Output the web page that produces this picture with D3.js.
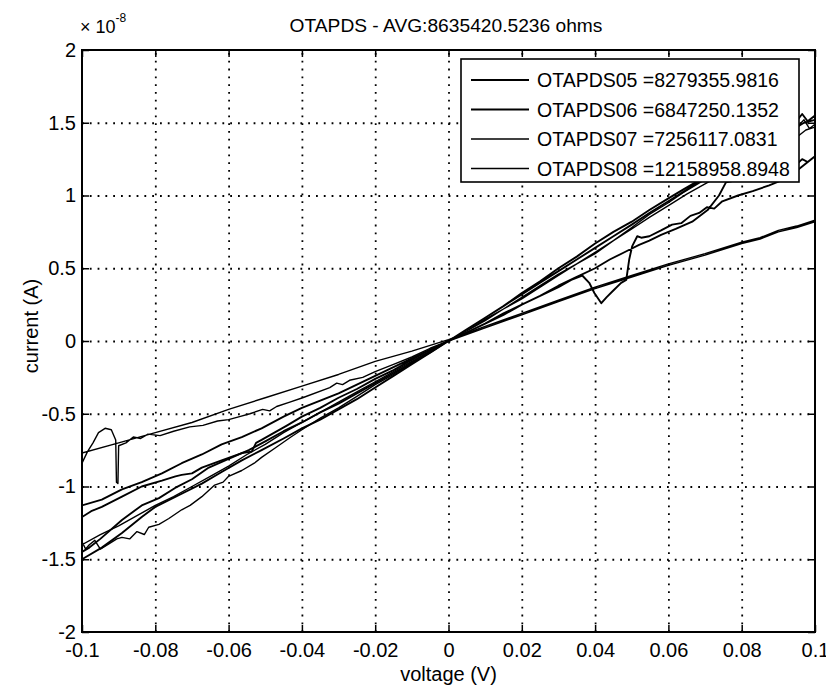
<!DOCTYPE html>
<html>
<head>
<meta charset="utf-8">
<script src="https://cdn.jsdelivr.net/npm/d3@7"></script>
<style>
body { margin: 0; background: #fff; }
text { font-family: "Liberation Sans", Arial, Helvetica, sans-serif; fill: #000; }
</style>
</head>
<body>
<div id="canvas"></div>
<script>
// ----------------------------------------------------------
// DATA -----------------------------------------------------
// ----------------------------------------------------------
var title_text = "OTAPDS - AVG:8635420.5236 ohms";
var x_label_text = "voltage (V)";
var y_label_text = "current (A)";

var x_ticks = [-0.1, -0.08, -0.06, -0.04, -0.02, 0, 0.02, 0.04, 0.06, 0.08, 0.1];
var x_tick_labels = ["-0.1", "-0.08", "-0.06", "-0.04", "-0.02", "0", "0.02", "0.04", "0.06", "0.08", "0.1"];
var y_ticks = [-2, -1.5, -1, -0.5, 0, 0.5, 1, 1.5, 2];
var y_tick_labels = ["-2", "-1.5", "-1", "-0.5", "0", "0.5", "1", "1.5", "2"];

var legend_labels = [
"OTAPDS05 =8279355.9816",
"OTAPDS06 =6847250.1352",
"OTAPDS07 =7256117.0831",
"OTAPDS08 =12158958.8948"
];

// sweeps: [voltage (V), current (x 1e-8 A)]
var otapds05 = [
[0,0],[0.005,0.06],[0.01,0.12],[0.015,0.18],[0.02,0.25],[0.025,0.31],[0.03,0.37],[0.0335,0.42],[0.0365,0.45],[0.0384,0.40],
[0.0398,0.33],[0.0417,0.26],[0.0431,0.30],[0.0447,0.34],[0.0471,0.40],[0.0485,0.42],[0.0493,0.56],[0.0501,0.65],[0.0515,0.72],
[0.0526,0.71],[0.0548,0.72],[0.058,0.76],[0.061,0.80],[0.0635,0.81],[0.066,0.86],[0.0684,0.88],[0.0705,0.92],[0.0725,0.91],
[0.0747,0.96],[0.079,1.00],[0.083,1.03],[0.0875,1.07],[0.0905,1.10],[0.094,1.15],[0.097,1.21],[0.1,1.27],
[0.098,1.23],[0.0965,1.25],[0.094,1.19],[0.0915,1.17],[0.088,1.15],[0.083,1.13],[0.0795,1.11],[0.0757,1.09],[0.0738,1.00],
[0.0707,0.90],[0.0665,0.82],[0.062,0.77],[0.058,0.73],[0.0548,0.69],[0.052,0.66],[0.048,0.61],[0.044,0.56],[0.04,0.50],
[0.035,0.44],[0.03,0.38],[0.025,0.31],[0.02,0.25],[0.015,0.19],[0.01,0.12],[0.005,0.06],[0,0],
[-0.005,-0.06],[-0.01,-0.12],[-0.015,-0.18],[-0.02,-0.24],[-0.025,-0.30],[-0.03,-0.36],[-0.035,-0.41],[-0.04,-0.46],
[-0.045,-0.52],[-0.051,-0.60],[-0.0564,-0.66],[-0.0619,-0.71],[-0.0673,-0.78],[-0.0728,-0.84],[-0.0782,-0.91],[-0.0837,-0.97],
[-0.0891,-1.02],[-0.0946,-1.09],[-0.1,-1.13],
[-0.1,-1.21],[-0.0975,-1.17],[-0.0946,-1.14],[-0.0891,-1.07],[-0.0837,-1.00],[-0.0782,-0.96],[-0.0745,-0.93],[-0.0728,-0.92],
[-0.07,-0.91],[-0.0673,-0.87],[-0.0619,-0.82],[-0.0564,-0.77],[-0.0537,-0.76],[-0.0525,-0.70],[-0.051,-0.68],[-0.0475,-0.63],
[-0.044,-0.58],[-0.04,-0.52],[-0.035,-0.46],[-0.03,-0.39],[-0.025,-0.33],[-0.02,-0.26],[-0.015,-0.20],[-0.01,-0.13],[-0.005,-0.06],[0,0]
];

var otapds06 = [
[0,0],[0.005,0.08],[0.01,0.16],[0.015,0.24],[0.02,0.33],[0.025,0.41],[0.03,0.50],[0.035,0.58],[0.04,0.67],[0.045,0.75],
[0.05,0.82],[0.0548,0.90],[0.06,0.98],[0.064,1.04],[0.068,1.10],[0.072,1.16],[0.076,1.22],[0.08,1.29],[0.085,1.36],[0.09,1.43],
[0.094,1.48],[0.0965,1.56],[0.098,1.51],[0.1,1.55],
[0.1,1.52],[0.097,1.50],[0.095,1.47],[0.09,1.40],[0.085,1.33],[0.08,1.26],[0.075,1.19],[0.07,1.12],[0.065,1.04],[0.06,0.96],
[0.0548,0.88],[0.05,0.80],[0.045,0.72],[0.04,0.64],[0.035,0.56],[0.03,0.48],[0.025,0.40],[0.02,0.32],[0.015,0.24],[0.01,0.16],
[0.005,0.08],[0,0],
[-0.005,-0.08],[-0.01,-0.16],[-0.015,-0.24],[-0.02,-0.32],[-0.025,-0.40],[-0.03,-0.47],[-0.035,-0.54],[-0.04,-0.60],
[-0.045,-0.67],[-0.051,-0.75],[-0.0564,-0.82],[-0.0619,-0.90],[-0.0673,-0.98],[-0.0728,-1.05],[-0.08,-1.14],[-0.0837,-1.21],
[-0.0891,-1.32],[-0.0946,-1.42],[-0.1,-1.50],
[-0.1,-1.45],[-0.098,-1.42],[-0.095,-1.36],[-0.0891,-1.23],[-0.0837,-1.13],[-0.079,-1.08],[-0.0746,-1.01],[-0.07,-0.95],
[-0.0654,-0.87],[-0.06,-0.81],[-0.0545,-0.75],[-0.05,-0.69],[-0.045,-0.62],[-0.04,-0.56],[-0.035,-0.49],[-0.03,-0.43],
[-0.025,-0.36],[-0.02,-0.29],[-0.015,-0.22],[-0.01,-0.15],[-0.005,-0.07],[0,0]
];

var otapds07 = [
[0,0],[0.005,0.07],[0.01,0.15],[0.015,0.22],[0.02,0.30],[0.025,0.38],[0.03,0.46],[0.035,0.53],[0.04,0.60],[0.045,0.69],
[0.05,0.78],[0.0548,0.87],[0.06,0.95],[0.064,1.02],[0.068,1.08],[0.072,1.14],[0.076,1.19],[0.08,1.25],[0.085,1.32],[0.09,1.39],
[0.094,1.44],[0.097,1.52],[0.0985,1.46],[0.1,1.49],
[0.1,1.47],[0.0975,1.45],[0.095,1.40],[0.0925,1.38],[0.09,1.35],[0.087,1.31],[0.085,1.29],[0.08,1.22],[0.075,1.15],[0.07,1.08],
[0.065,1.01],[0.06,0.93],[0.0548,0.85],[0.05,0.77],[0.045,0.69],[0.04,0.61],[0.035,0.53],[0.03,0.45],[0.025,0.37],[0.02,0.29],
[0.015,0.22],[0.01,0.14],[0.005,0.07],[0,0],
[-0.005,-0.07],[-0.01,-0.14],[-0.015,-0.21],[-0.02,-0.28],[-0.025,-0.35],[-0.03,-0.42],[-0.035,-0.49],[-0.04,-0.56],
[-0.045,-0.63],[-0.05,-0.71],[-0.055,-0.78],[-0.06,-0.86],[-0.065,-0.93],[-0.07,-1.00],[-0.075,-1.07],[-0.08,-1.13],
[-0.085,-1.20],[-0.09,-1.27],[-0.095,-1.33],[-0.1,-1.40],
[-0.1,-1.38],[-0.099,-1.43],[-0.098,-1.40],[-0.0965,-1.37],[-0.095,-1.43],[-0.093,-1.40],[-0.0905,-1.36],[-0.0891,-1.35],
[-0.087,-1.36],[-0.085,-1.31],[-0.083,-1.33],[-0.0818,-1.28],[-0.079,-1.26],[-0.0763,-1.22],[-0.0728,-1.16],[-0.0705,-1.13],
[-0.0673,-1.07],[-0.0638,-0.99],[-0.0615,-0.97],[-0.06,-0.93],[-0.0564,-0.89],[-0.053,-0.84],[-0.051,-0.80],[-0.047,-0.73],
[-0.043,-0.66],[-0.04,-0.61],[-0.035,-0.53],[-0.03,-0.46],[-0.025,-0.38],[-0.02,-0.30],[-0.015,-0.23],[-0.01,-0.15],
[-0.005,-0.08],[0,0]
];

var otapds08 = [
[0,0],[0.01,0.09],[0.02,0.18],[0.03,0.27],[0.04,0.36],[0.05,0.44],[0.06,0.52],[0.07,0.59],[0.08,0.67],[0.085,0.70],
[0.09,0.75],[0.095,0.78],[0.1,0.82],
[0.1,0.83],[0.095,0.79],[0.09,0.76],[0.085,0.71],[0.08,0.68],[0.07,0.60],[0.06,0.53],[0.05,0.45],[0.04,0.37],[0.03,0.28],
[0.02,0.19],[0.01,0.10],[0,0.01],
[-0.01,-0.07],[-0.02,-0.14],[-0.03,-0.23],[-0.04,-0.31],[-0.05,-0.39],[-0.06,-0.47],[-0.07,-0.56],[-0.08,-0.63],
[-0.09,-0.70],[-0.1,-0.77],
[-0.1,-0.84],[-0.0985,-0.76],[-0.097,-0.70],[-0.0955,-0.63],[-0.0937,-0.60],[-0.092,-0.61],[-0.0908,-0.68],[-0.0906,-0.97],
[-0.0902,-0.98],[-0.09,-0.72],[-0.088,-0.70],[-0.086,-0.66],[-0.084,-0.67],[-0.082,-0.64],[-0.0787,-0.65],[-0.075,-0.62],
[-0.0706,-0.59],[-0.067,-0.58],[-0.063,-0.55],[-0.06,-0.54],[-0.057,-0.52],[-0.0542,-0.50],[-0.0507,-0.47],[-0.0488,-0.48],
[-0.0469,-0.45],[-0.0433,-0.42],[-0.0398,-0.39],[-0.0324,-0.32],[-0.0305,-0.29],[-0.0289,-0.30],[-0.027,-0.27],
[-0.0234,-0.25],[-0.02,-0.21],[-0.015,-0.16],[-0.01,-0.11],[-0.005,-0.05],[0,0]
];

var all_series = [otapds05, otapds06, otapds07, otapds08];
var series_widths = [1.9, 1.9, 1.4, 1.4];


// ----------------------------------------------------------
// STRUCTURE ------------------------------------------------
// ----------------------------------------------------------
var plot_left = 82, plot_right = 815, plot_top = 50, plot_bottom = 632;
var tick_len = 7;

var svg = d3.select("#canvas").append("svg")
.attr("width", 826)
.attr("height", 687)
.style("background-color", "#fff");

svg.append("defs").append("clipPath")
.attr("id", "plot_clip")
.append("rect")
.attr("x", plot_left).attr("y", plot_top)
.attr("width", plot_right - plot_left)
.attr("height", plot_bottom - plot_top);

var grid_group = svg.append("g").attr("class", "grid_group");
var line_group = svg.append("g").attr("class", "line_group").attr("clip-path", "url(#plot_clip)");
var axis_group = svg.append("g").attr("class", "axis_group");
var legend_group = svg.append("g").attr("class", "legend_group");
var text_group = svg.append("g").attr("class", "text_group");


// ----------------------------------------------------------
// SCALES ---------------------------------------------------
// ----------------------------------------------------------
var xScale = d3.scaleLinear().domain([-0.1, 0.1]).range([plot_left, plot_right]);
var yScale = d3.scaleLinear().domain([-2, 2]).range([plot_bottom, plot_top]);


// ----------------------------------------------------------
// GRID -----------------------------------------------------
// ----------------------------------------------------------
function dotted(g) {
g.select(".domain").remove();
g.selectAll(".tick line")
.attr("stroke", "#000")
.attr("stroke-width", 1.8)
.attr("stroke-dasharray", "1.8,6");
}
grid_group.append("g")
.attr("transform", "translate(0," + plot_bottom + ")")
.call(d3.axisBottom(xScale).tickValues(x_ticks.slice(1, -1)).tickSize(-(plot_bottom - plot_top)).tickFormat(""))
.call(dotted);
grid_group.append("g")
.attr("transform", "translate(" + plot_left + ",0)")
.call(d3.axisLeft(yScale).tickValues(y_ticks.slice(1, -1)).tickSize(-(plot_right - plot_left)).tickFormat(""))
.call(dotted);


// ----------------------------------------------------------
// LINES ----------------------------------------------------
// ----------------------------------------------------------
var line = d3.line()
.x(function(d) { return xScale(d[0]); })
.y(function(d) { return yScale(d[1]); });

line_group.selectAll(".sweep")
.data(all_series)
.enter().append("path")
.attr("class", "sweep")
.attr("d", line)
.style("fill", "none")
.style("stroke", "#000")
.style("stroke-linejoin", "round")
.style("stroke-width", function(d, i) { return series_widths[i]; });


// ----------------------------------------------------------
// AXES -----------------------------------------------------
// ----------------------------------------------------------
function axisStyle(g) {
g.select(".domain").remove();
g.selectAll(".tick line").attr("stroke", "#000").attr("stroke-width", 1.5);
g.attr("font-size", 20).attr("font-family", "Liberation Sans, Arial, sans-serif");
}
axis_group.append("g")
.attr("transform", "translate(0," + plot_bottom + ")")
.call(d3.axisBottom(xScale).tickValues(x_ticks).tickSize(-tick_len).tickPadding(11)
.tickFormat(function(d, i) { return x_tick_labels[i]; }))
.call(axisStyle);
axis_group.append("g")
.attr("transform", "translate(0," + plot_top + ")")
.call(d3.axisTop(xScale).tickValues(x_ticks).tickSize(-tick_len).tickFormat(""))
.call(axisStyle);
axis_group.append("g")
.attr("transform", "translate(" + plot_left + ",0)")
.call(d3.axisLeft(yScale).tickValues(y_ticks).tickSize(-tick_len).tickPadding(6)
.tickFormat(function(d, i) { return y_tick_labels[i]; }))
.call(axisStyle);
axis_group.append("g")
.attr("transform", "translate(" + plot_right + ",0)")
.call(d3.axisRight(yScale).tickValues(y_ticks).tickSize(-tick_len).tickFormat(""))
.call(axisStyle);

// box
axis_group.append("rect")
.attr("x", plot_left).attr("y", plot_top)
.attr("width", plot_right - plot_left)
.attr("height", plot_bottom - plot_top)
.style("fill", "none").style("stroke", "#000").style("stroke-width", 2);


// ----------------------------------------------------------
// LEGEND ---------------------------------------------------
// ----------------------------------------------------------
legend_group.append("rect")
.attr("x", 461).attr("y", 59)
.attr("width", 338).attr("height", 123)
.style("fill", "#fff").style("stroke", "#000").style("stroke-width", 1.6);

var legend_rows = legend_group.selectAll(".legend_row")
.data(legend_labels)
.enter().append("g")
.attr("class", "legend_row")
.attr("transform", function(d, i) { return "translate(0," + (80 + i * 29.5) + ")"; });
legend_rows.append("line")
.attr("x1", 471).attr("x2", 529)
.attr("y1", 0).attr("y2", 0)
.style("stroke", "#000")
.style("stroke-width", function(d, i) { return series_widths[i]; });
legend_rows.append("text")
.attr("x", 537).attr("y", 7)
.style("font-size", "19.5px")
.text(function(d) { return d; });


// ----------------------------------------------------------
// TEXT -----------------------------------------------------
// ----------------------------------------------------------
text_group.append("text")
.attr("x", 446).attr("y", 32)
.attr("text-anchor", "middle")
.style("font-size", "19.2px")
.text(title_text);

text_group.append("text")
.attr("x", (plot_left + plot_right) / 2).attr("y", 681)
.attr("text-anchor", "middle")
.style("font-size", "20px")
.text(x_label_text);

text_group.append("text")
.attr("transform", "translate(38,326) rotate(-90)")
.attr("text-anchor", "middle")
.style("font-size", "20px")
.text(y_label_text);

// exponent
var exp_text = text_group.append("text")
.attr("x", 80).attr("y", 33)
.style("font-size", "18px");
exp_text.append("tspan").text("\u00d7 10");
exp_text.append("tspan").attr("dy", -11).style("font-size", "12px").text("-8");
</script>
</body>
</html>
